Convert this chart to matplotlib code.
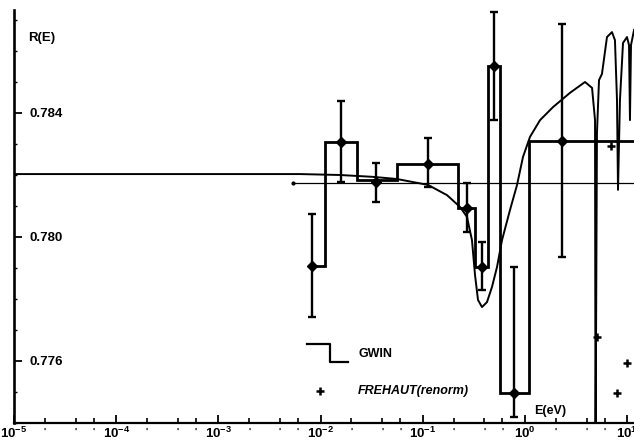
import numpy as np
import matplotlib
matplotlib.use("Agg")
import matplotlib.pyplot as plt
from matplotlib.ticker import FixedLocator, MultipleLocator, FixedFormatter, NullFormatter

plt.rcParams['font.family'] = ['Liberation Sans', 'DejaVu Sans']
plt.rcParams['font.weight'] = 'bold'
plt.rcParams['mathtext.fontset'] = 'custom'
plt.rcParams['mathtext.rm'] = 'Liberation Sans:bold'
plt.rcParams['mathtext.bf'] = 'Liberation Sans:bold'
plt.rcParams['mathtext.it'] = 'Liberation Sans:bold'

# GWIN histogram (bin edges in eV, R(E) per bin)
gwin_edges = [0.00824, 0.01104, 0.0227, 0.0560, 0.2208, 0.3243, 0.4345, 0.5689, 1.094, 20.0]
gwin_R = [0.77906, 0.78306, 0.78184, 0.78235, 0.78094, 0.77903, 0.78552, 0.77497, 0.78310]

# GWIN points with error bars
pt_E = [0.00824, 0.01585, 0.0348, 0.1124, 0.2704, 0.3793, 0.4977, 0.780, 2.30]
pt_R = [0.77906, 0.78306, 0.78177, 0.78235, 0.78094, 0.77903, 0.78552, 0.77497, 0.78310]
pt_hi = [0.78074, 0.78439, 0.78239, 0.78319, 0.78174, 0.77984, 0.78726, 0.77903, 0.78687]
pt_lo = [0.77742, 0.78177, 0.78113, 0.78161, 0.78016, 0.77829, 0.78377, 0.77419, 0.77935]

# evaluated curve
curve_E = [1e-5, 0.00628, 0.01549, 0.03258, 0.05598, 0.1125, 0.1726, 0.2312, 0.2704,
           0.3027, 0.3243, 0.3467, 0.3793, 0.4246, 0.4753, 0.5321, 0.5957, 0.7129,
           0.8356, 0.9550, 1.119, 1.403, 1.879, 2.754, 3.864, 4.529, 4.842, 4.898,
           5.058, 5.297, 5.662, 6.339, 7.096, 7.586, 7.943, 8.128, 8.492, 9.099,
           9.954, 10.42, 10.64, 10.89, 11.67]
curve_R = [0.78203, 0.78203, 0.78200, 0.78194, 0.78187, 0.78168, 0.78135, 0.78097, 0.78065,
           0.77990, 0.77877, 0.77797, 0.77774, 0.77790, 0.77839, 0.77903, 0.77990, 0.78087,
           0.78168, 0.78258, 0.78323, 0.78377, 0.78419, 0.78465, 0.78500, 0.78481, 0.78377, 0.77300,
           0.78335, 0.78506, 0.78526, 0.78645, 0.78661, 0.78635, 0.78442, 0.78152, 0.78442, 0.78626,
           0.78645, 0.78619, 0.78377, 0.78619, 0.78668]

# FREHAUT (renorm) points
fre_E = [5.058, 6.934, 7.943, 9.954]
fre_R = [0.77677, 0.78294, 0.77497, 0.77594]

# thin reference level
ref_E = [0.00537, 20.0]
ref_R = [0.78174, 0.78174]

x_ticks = [1e-5, 1e-4, 1e-3, 1e-2, 1e-1, 1e0, 1e1]
x_tick_labels = ['$10^{-5}$', '$10^{-4}$', '$10^{-3}$', '$10^{-2}$', '$10^{-1}$', '$10^{0}$', '$10^{1}$']
y_ticks = [0.776, 0.780, 0.784]
y_tick_labels = ['0.776', '0.780', '0.784']

fig = plt.figure(figsize=(6.34, 4.44), dpi=100)
ax = fig.add_axes([0.0221, 0.0473, 0.978, 0.930])
ax.set_xscale('log')
ax.set_xlim(1e-5, 11.67)
ax.set_ylim(0.774, 0.78732)

ax.stairs(gwin_R, gwin_edges, baseline=None, color='k', lw=2.0, zorder=3)
ax.plot(curve_E, curve_R, color='k', lw=1.4, zorder=2)
ax.plot(ref_E, ref_R, color='k', lw=0.9, zorder=2)
ax.plot(ref_E[:1], ref_R[:1], 'k.', ms=4)
pt_R_a = np.array(pt_R)
ax.errorbar(pt_E, pt_R, yerr=[pt_R_a - np.array(pt_lo), np.array(pt_hi) - pt_R_a],
            fmt='D', ms=5, color='k', ecolor='k', elinewidth=1.7, capsize=3.2,
            capthick=1.7, zorder=4)
ax.plot(fre_E, fre_R, 'k+', ms=6, mew=1.8, ls='none', zorder=4)

# axes styling
for s in ['top', 'right']:
    ax.spines[s].set_visible(False)
ax.spines['left'].set_linewidth(1.9)
ax.spines['bottom'].set_linewidth(1.6)

ax.xaxis.set_major_locator(FixedLocator(x_ticks))
ax.xaxis.set_major_formatter(FixedFormatter(x_tick_labels))
minor_x = [m * d for d in x_ticks[:-1] + [10.0] for m in (2, 4, 6)]
ax.xaxis.set_minor_locator(FixedLocator(minor_x))
ax.xaxis.set_minor_formatter(FixedFormatter(["'"] * len(minor_x)))
ax.tick_params(axis='x', which='major', direction='in', length=6, width=1.3,
               labelsize=9.5, pad=2)
ax.tick_params(axis='x', which='minor', direction='in', length=3.5, width=1.2,
               labelsize=6.5, pad=3)

ax.yaxis.set_major_locator(FixedLocator(y_ticks))
ax.yaxis.set_major_formatter(FixedFormatter(y_tick_labels))
ax.yaxis.set_minor_locator(MultipleLocator(0.001))
ax.yaxis.set_minor_formatter(NullFormatter())
ax.tick_params(axis='y', which='major', direction='in', length=6, width=1.3,
               labelsize=9.5, pad=-11)
ax.tick_params(axis='y', which='minor', direction='in', length=2.5, width=1.0)
for lab in ax.get_yticklabels():
    lab.set_horizontalalignment('left')

ax.text(0.0226, 0.932, 'R(E)', transform=ax.transAxes, fontsize=9.5,
        fontweight='bold', ha='left', va='center')
ax.text(0.839, 0.029, 'E(eV)', transform=ax.transAxes, fontsize=9,
        fontweight='bold', ha='left', va='center')

# hand-drawn legend
ax.plot([0.4726, 0.5097, 0.5097, 0.5387], [0.1913, 0.1913, 0.1477, 0.1477],
        color='k', lw=1.6, transform=ax.transAxes)
ax.text(0.5548, 0.167, 'GWIN', transform=ax.transAxes, fontsize=9,
        fontweight='bold', ha='left', va='center')
ax.plot([0.4935], [0.0775], 'k+', ms=6, mew=1.8, transform=ax.transAxes)
ax.text(0.5548, 0.0775, 'FREHAUT(renorm)', transform=ax.transAxes, fontsize=9,
        fontweight='bold', style='italic', ha='left', va='center')

fig.savefig('out.png', dpi=100)
